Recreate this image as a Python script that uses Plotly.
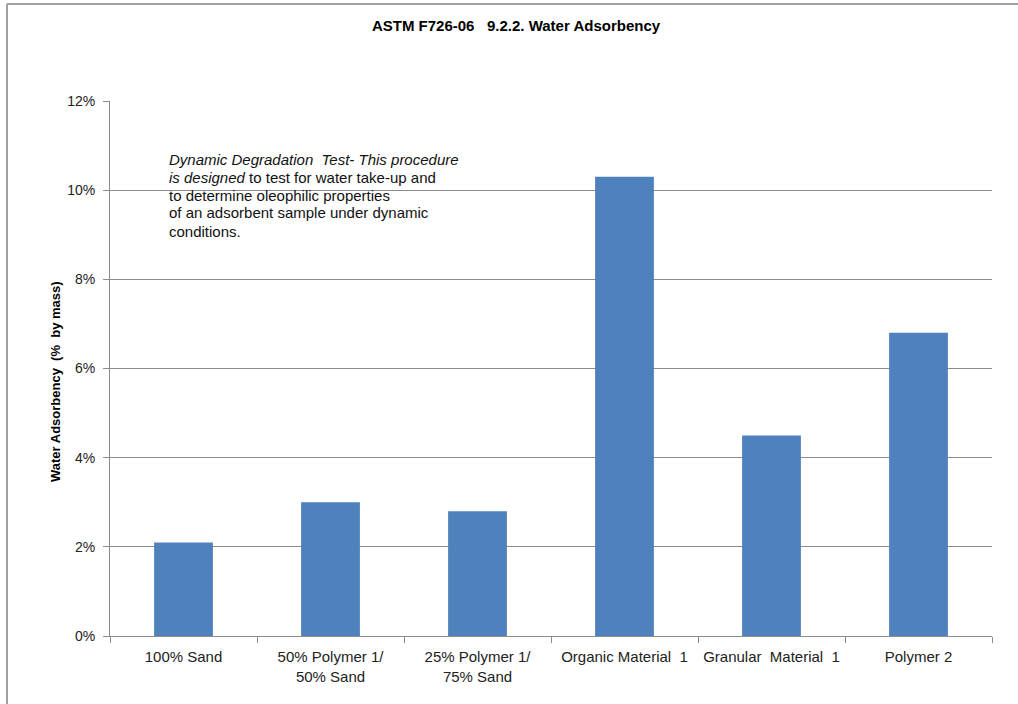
import plotly.graph_objects as go

categories = ["100% Sand", "50% Polymer 1/<br>50% Sand", "25% Polymer 1/<br>75% Sand",
              "Organic Material  1", "Granular  Material  1", "Polymer 2"]
values = [0.021, 0.030, 0.028, 0.103, 0.045, 0.068]
y_ticks = [0, 0.02, 0.04, 0.06, 0.08, 0.10, 0.12]
y_tick_labels = ["0%", "2%", "4%", "6%", "8%", "10%", "12%"]
note_lines = ["<i>Dynamic Degradation  Test- This procedure</i>",
              "<i>is designed</i> to test for water take-up and",
              "to determine oleophilic properties",
              "of an adsorbent sample under dynamic",
              "conditions."]

W, H = 1018, 704
L, R, T, B = 110, 26, 101, 68
pw, ph = W - L - R, H - T - B

def px_x(p):
    return (p - L) / pw

def px_y(p):
    return (H - B - p) / ph

font_main = "Liberation Sans, Arial, sans-serif"

fig = go.Figure(go.Bar(x=categories, y=values, marker_color="#4F81BD",
                       marker_line_width=0, width=0.4))

fig.update_layout(
    width=W, height=H,
    margin=dict(l=L, r=R, t=T, b=B),
    paper_bgcolor="white", plot_bgcolor="white",
    showlegend=False,
    title=dict(text="<b>ASTM F726-06   9.2.2. Water Adsorbency</b>",
               x=516 / W, xanchor="center", y=1 - 26 / H, yanchor="middle",
               font=dict(family=font_main, size=15, color="black")),
    font=dict(family=font_main, color="#222"),
)

fig.update_yaxes(range=[0, 0.12], tickvals=y_ticks, ticktext=y_tick_labels,
                 showgrid=True, gridcolor="#8c8c8c", gridwidth=1,
                 showline=True, linecolor="#8c8c8c", linewidth=1,
                 ticks="outside", ticklen=6, tickcolor="#8c8c8c",
                 ticklabelstandoff=5,
                 tickfont=dict(size=14, family=font_main, color="#222"),
                 zeroline=False)

fig.update_xaxes(showline=True, linecolor="#8c8c8c", linewidth=1,
                 ticks="outside", ticklen=6, tickcolor="#8c8c8c", tickson="boundaries",
                 ticklabelstandoff=7,
                 tickfont=dict(size=15, family=font_main, color="#222"),
                 range=[-0.5, 5.5])

# y-axis title
fig.add_annotation(
    xref="paper", yref="paper", x=px_x(55), y=px_y(382), xanchor="center", yanchor="middle",
    textangle=-90, showarrow=False,
    text="<b>Water Adsorbency  (%  by mass)</b>",
    font=dict(size=13, family=font_main, color="black"),
)

for i, line in enumerate(note_lines):
    fig.add_annotation(
        xref="paper", yref="paper", x=px_x(167), y=px_y(159 + 18 * i),
        xanchor="left", yanchor="middle", align="left", showarrow=False,
        text=line, font=dict(size=15, family=font_main, color="#111"),
    )

# outer chart border (left and top)
fig.add_shape(type="line", xref="paper", yref="paper",
              x0=px_x(7), x1=px_x(7), y0=px_y(720), y1=px_y(4),
              line=dict(color="#a0a0a0", width=2))
fig.add_shape(type="line", xref="paper", yref="paper",
              x0=px_x(7), x1=px_x(1030), y0=px_y(4), y1=px_y(4),
              line=dict(color="#a0a0a0", width=2))

fig.write_html("out.html")
